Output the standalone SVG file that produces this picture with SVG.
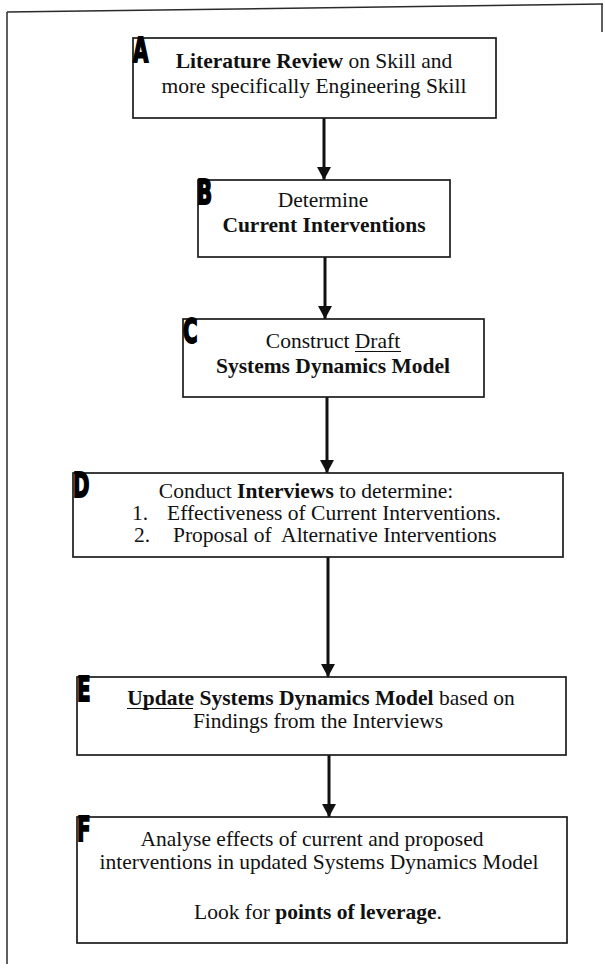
<svg xmlns="http://www.w3.org/2000/svg" width="605" height="970" viewBox="0 0 605 970">
  <style>
    .box { fill: #ffffff; stroke: #1c1c1c; stroke-width: 1.7; }
    .frame { fill: none; stroke: #2a2a2a; stroke-width: 1.5; }
    .txt { font-family: "Liberation Serif", "Times New Roman", serif; font-size: 21.5px; fill: #111111; text-anchor: middle; }
    .lft { text-anchor: start; }
    .b { font-weight: bold; }
    .ul { stroke: #111111; stroke-width: 1.2; }
    .tag { font-family: "DejaVu Sans Condensed", "DejaVu Sans", sans-serif; font-weight: bold; font-size: 22px; fill: #000000; stroke: #000000; stroke-width: 1.2; }
    .conn { stroke: #111111; stroke-width: 3; fill: none; }
  </style>
  <defs>
    <marker id="arrow" viewBox="0 0 13 14" refX="13" refY="7" markerWidth="13" markerHeight="14" markerUnits="userSpaceOnUse" orient="auto">
      <path d="M0,0 L13,7 L0,14 Z" fill="#111111"/>
    </marker>
  </defs>
  <rect width="605" height="970" fill="#ffffff"/>

  <!-- page frame -->
  <g id="frame">
    <path class="frame" d="M7,12 L603,4"/>
    <path class="frame" d="M7,12 L7,964"/>
    <path class="frame" d="M602,4 L602,32"/>
  </g>

  <!-- connectors -->
  <g id="connectors">
    <path class="conn" d="M324,118 V180" marker-end="url(#arrow)"/>
    <path class="conn" d="M325,257 V319" marker-end="url(#arrow)"/>
    <path class="conn" d="M327,397 V473" marker-end="url(#arrow)"/>
    <path class="conn" d="M328,557 V677" marker-end="url(#arrow)"/>
    <path class="conn" d="M329,755 V817" marker-end="url(#arrow)"/>
  </g>

  <!-- A: literature review -->
  <g id="node-A">
    <rect class="box" x="133" y="38" width="363" height="80"/>
    <text class="tag" transform="translate(133,62) scale(1,1.5)">A</text>
    <text class="txt" x="314" y="68"><tspan class="b">Literature Review</tspan> on Skill and</text>
    <text class="txt" x="314" y="93">more specifically Engineering Skill</text>
  </g>

  <!-- B: current interventions -->
  <g id="node-B">
    <rect class="box" x="198" y="180" width="252" height="77"/>
    <text class="tag" transform="translate(197,204) scale(1,1.5)">B</text>
    <text class="txt" x="323" y="207">Determine</text>
    <text class="txt b" x="324" y="232">Current Interventions</text>
  </g>

  <!-- C: draft model -->
  <g id="node-C">
    <rect class="box" x="183" y="319" width="301" height="78"/>
    <text class="tag" transform="translate(183,343) scale(1,1.5)">C</text>
    <text class="txt" x="333" y="348">Construct Draft</text>
    <line class="ul" x1="355" y1="351.5" x2="401" y2="351.5"/>
    <text class="txt b" x="333" y="373">Systems Dynamics Model</text>
  </g>

  <!-- D: interviews -->
  <g id="node-D">
    <rect class="box" x="73" y="473" width="490" height="84"/>
    <text class="tag" transform="translate(73,497) scale(1,1.5)">D</text>
    <text class="txt" x="306" y="498">Conduct <tspan class="b">Interviews</tspan> to determine:</text>
    <text class="txt lft" x="132" y="520">1.</text>
    <text class="txt lft" x="167" y="520">Effectiveness of Current Interventions.</text>
    <text class="txt lft" x="134" y="542">2.</text>
    <text class="txt lft" x="173" y="542" xml:space="preserve">Proposal of  Alternative Interventions</text>
  </g>

  <!-- E: update model -->
  <g id="node-E">
    <rect class="box" x="77" y="677" width="489" height="78"/>
    <text class="tag" transform="translate(77,701) scale(1,1.5)">E</text>
    <text class="txt b" x="321" y="705"><tspan>Update Systems Dynamics Model</tspan><tspan font-weight="normal"> based on</tspan></text>
    <line class="ul" x1="127" y1="708.5" x2="193" y2="708.5"/>
    <text class="txt" x="318" y="728">Findings from the Interviews</text>
  </g>

  <!-- F: analysis -->
  <g id="node-F">
    <rect class="box" x="77" y="817" width="490" height="126"/>
    <text class="tag" transform="translate(77,841) scale(1,1.5)">F</text>
    <text class="txt" x="312" y="846">Analyse effects of current and proposed</text>
    <text class="txt" x="319" y="869">interventions in updated Systems Dynamics Model</text>
    <text class="txt" x="318" y="919">Look for <tspan class="b">points of leverage</tspan>.</text>
  </g>
</svg>
